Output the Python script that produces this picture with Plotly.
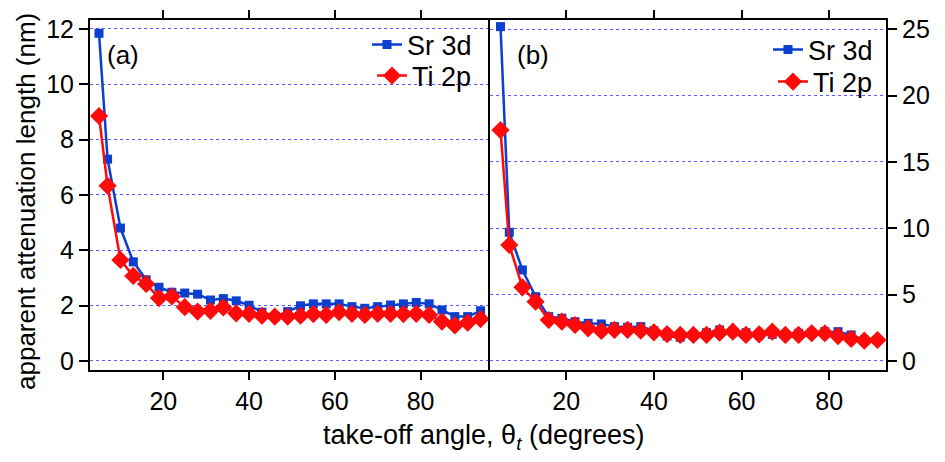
import plotly.graph_objects as go

# ---- data ----
theta_a = [5, 7, 10, 13, 16, 19, 22, 25, 28, 31, 34, 37, 40, 43, 46, 49, 52, 55, 58,
           61, 64, 67, 70, 73, 76, 79, 82, 85, 88, 91, 94]
sr_a = [11.84, 7.29, 4.80, 3.58, 2.93, 2.66, 2.48, 2.45, 2.41, 2.20, 2.25, 2.17, 2.01,
        1.76, 1.60, 1.78, 1.99, 2.06, 2.06, 2.06, 1.96, 1.90, 1.96, 2.02, 2.06, 2.11,
        2.06, 1.84, 1.60, 1.60, 1.81]
ti_a = [8.85, 6.33, 3.65, 3.07, 2.78, 2.27, 2.33, 1.94, 1.78, 1.81, 1.93, 1.72, 1.70,
        1.63, 1.60, 1.60, 1.63, 1.69, 1.66, 1.76, 1.70, 1.66, 1.70, 1.70, 1.69, 1.70,
        1.66, 1.42, 1.28, 1.38, 1.51]

theta_b = [5, 7, 10, 13, 16, 19, 22, 25, 28, 31, 34, 37, 40, 43, 46, 49, 52, 55, 58,
           61, 64, 67, 70, 73, 76, 79, 82, 85, 88, 91]
sr_b = [25.2, 9.70, 6.86, 4.85, 3.34, 3.22, 2.96, 2.84, 2.79, 2.59, 2.54, 2.59, 2.28,
        1.88, 1.79, 1.94, 2.13, 2.34, 2.21, 2.13, 1.96, 2.01, 1.96, 2.09, 2.13, 2.21,
        2.21, 1.96, 1.58, 1.58]
ti_b = [17.4, 8.74, 5.55, 4.47, 3.09, 2.96, 2.71, 2.46, 2.26, 2.34, 2.34, 2.28, 2.16,
        2.03, 1.96, 1.96, 1.96, 2.13, 2.21, 1.96, 2.01, 2.21, 1.96, 1.96, 2.09, 2.09,
        1.88, 1.66, 1.53, 1.58]

x_ticks = [20, 40, 60, 80]
y_ticks_a = [0, 2, 4, 6, 8, 10, 12]
y_ticks_b = [0, 5, 10, 15, 20, 25]
series_names = ["Sr 3d", "Ti 2p"]
panel_labels = ["(a)", "(b)"]

BLUE = "#0b3fcf"
RED = "#ff0a0a"
GRID = "#5a5aff"
FONT = "Liberation Sans, Arial, Helvetica, sans-serif"
TICK = dict(size=25, color="black", family=FONT)
BIG = dict(size=27, color="black", family=FONT)

# plot area in page pixels (page has an 8px body margin)
PL, PT, PW, PH = 90, 20, 796, 350


def px_x(p):
    return (p - PL) / PW


def px_y(p):
    return 1 - (p - PT) / PH


fig = go.Figure()

sq = dict(symbol="square", size=9, color=BLUE)
dm = dict(symbol="diamond", size=14, color=RED)

fig.add_trace(go.Scatter(x=theta_a, y=sr_a, mode="lines+markers", name=series_names[0],
                         line=dict(color=BLUE, width=2.5), marker=sq,
                         xaxis="x", yaxis="y", legend="legend"))
fig.add_trace(go.Scatter(x=theta_a, y=ti_a, mode="lines+markers", name=series_names[1],
                         line=dict(color=RED, width=2.5), marker=dm,
                         xaxis="x", yaxis="y", legend="legend2"))
fig.add_trace(go.Scatter(x=theta_b, y=sr_b, mode="lines+markers", name=series_names[0],
                         line=dict(color=BLUE, width=2.5), marker=sq,
                         xaxis="x2", yaxis="y2", legend="legend3"))
fig.add_trace(go.Scatter(x=theta_b, y=ti_b, mode="lines+markers", name=series_names[1],
                         line=dict(color=RED, width=2.5), marker=dm,
                         xaxis="x2", yaxis="y2", legend="legend4"))

split = 400 / 796

common_x = dict(showline=True, linecolor="black", linewidth=2, mirror="ticks",
                ticks="outside", ticklen=8, tickwidth=2, tickcolor="black",
                tickvals=x_ticks, showgrid=False, zeroline=False, automargin=False,
                tickfont=TICK)
common_y = dict(showline=True, linecolor="black", linewidth=2,
                ticks="outside", ticklen=9, tickwidth=2, tickcolor="black",
                showgrid=True, gridcolor=GRID, griddash="dot", gridwidth=1,
                zeroline=False, automargin=False, tickfont=TICK)


def leg(xr, yc):
    return dict(x=px_x(xr), xanchor="right", y=px_y(yc), yanchor="middle",
                bgcolor="rgba(0,0,0,0)", font=BIG, tracegroupgap=0, itemwidth=30)


fig.update_layout(
    width=945, height=462,
    margin=dict(l=PL - 8, r=945 - PW - (PL - 8), t=PT - 8, b=462 - PH - (PT - 8)),
    paper_bgcolor="white", plot_bgcolor="white",
    font=dict(family=FONT, size=25, color="black"),
    xaxis=dict(domain=[0, split], range=[2.9, 96.2], anchor="y", **common_x),
    xaxis2=dict(domain=[split, 1], range=[2.6, 92.95], anchor="y2", **common_x),
    yaxis=dict(range=[-0.33, 12.32], tickvals=y_ticks_a, anchor="x", mirror=False,
               **common_y),
    yaxis2=dict(range=[-0.68, 25.7], tickvals=y_ticks_b, side="right", anchor="x2",
                mirror=True, **common_y),
    legend=leg(477, 45),
    legend2=leg(477, 76),
    legend3=leg(878, 50),
    legend4=leg(878, 82),
    showlegend=True,
)

fig.add_annotation(text=panel_labels[0], xref="paper", yref="paper",
                   x=px_x(105), xanchor="left", y=px_y(55), yanchor="middle",
                   showarrow=False, font=dict(size=26, color="black", family=FONT))
fig.add_annotation(text=panel_labels[1], xref="paper", yref="paper",
                   x=px_x(515), xanchor="left", y=px_y(55), yanchor="middle",
                   showarrow=False, font=dict(size=26, color="black", family=FONT))
fig.add_annotation(text="take-off angle, θ<sub><i>t</i></sub> (degrees)", xref="paper",
                   yref="paper", x=px_x(483), xanchor="center",
                   y=px_y(437), yanchor="middle", showarrow=False, font=BIG)
fig.add_annotation(text="apparent attenuation length (nm)", xref="paper", yref="paper",
                   x=px_x(26), xanchor="center", y=px_y(202),
                   yanchor="middle", textangle=-90, showarrow=False, borderpad=0,
                   font=dict(size=26, color="black", family=FONT))

fig.write_html("out.html")
